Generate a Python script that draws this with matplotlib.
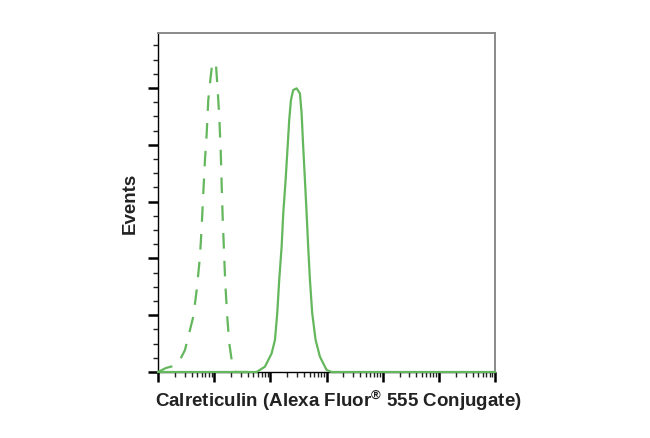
import numpy as np
import matplotlib
matplotlib.use("Agg")
import matplotlib.pyplot as plt
from matplotlib.ticker import LogLocator, MultipleLocator, NullFormatter

plt.rcParams["mathtext.fontset"] = "custom"
plt.rcParams["mathtext.rm"] = "Liberation Sans:bold"
plt.rcParams["mathtext.bf"] = "Liberation Sans:bold"

# Control (dashed) histogram: log10 intensity, event height
ctrl_logx = [0.00, 0.14, 0.25, 0.361, 0.480, 0.628, 0.689, 0.747, 0.778, 0.806, 0.836,
             0.867, 0.895, 0.938, 0.966, 0.996, 1.032, 1.055, 1.091, 1.116, 1.133,
             1.151, 1.174, 1.198, 1.233, 1.269, 1.329, 1.38, 1.60]
ctrl_y = [0.00, 0.07, 0.10, 0.153, 0.387, 0.974, 1.444, 2.030, 2.558, 3.146, 3.732,
          4.202, 4.789, 5.199, 5.435, 5.465, 5.405, 5.083, 4.496, 3.908, 3.322,
          2.736, 2.148, 1.561, 0.974, 0.505, 0.092, 0.00, 0.00]

# Calreticulin stained (solid) histogram
stain_logx = [0.00, 1.756, 1.904, 2.023, 2.082, 2.123, 2.158, 2.201, 2.230, 2.272,
              2.308, 2.336, 2.367, 2.407, 2.468, 2.527, 2.557, 2.585, 2.616, 2.646,
              2.674, 2.705, 2.746, 2.806, 2.883, 3.002, 3.091, 6.00]
stain_y = [0.00, 0.00, 0.094, 0.328, 0.563, 1.033, 1.620, 2.207, 2.794, 3.380,
           3.968, 4.437, 4.789, 4.965, 4.995, 4.906, 4.554, 3.968, 3.380, 2.794,
           2.207, 1.620, 1.033, 0.563, 0.270, 0.035, 0.00, 0.00]

xlabel = r"Calreticulin (Alexa Fluor$^{\mathrm{®}}$ 555 Conjugate)"
ylabel = "Events"
green = "#64b75c"

fig = plt.figure(figsize=(6.5, 4.38), dpi=100)
ax = fig.add_axes([158/650, 1-372/438, (495-158)/650, (372-33)/438])

ax.plot(10**np.array(stain_logx), stain_y, color=green, lw=1.6, zorder=3,
        clip_on=False, solid_joinstyle="round")
ax.plot(10**np.array(ctrl_logx), ctrl_y, color=green, lw=1.6, dashes=(7, 5.5),
        dash_capstyle="butt", zorder=3, clip_on=False)

ax.set_xscale("log")
ax.set_xlim(1, 1e6)
ax.set_ylim(0, 5.97)
ax.xaxis.set_major_locator(LogLocator(base=10, numticks=10))
ax.xaxis.set_minor_locator(LogLocator(base=10, subs=np.arange(2, 10), numticks=20))
ax.xaxis.set_major_formatter(NullFormatter())
ax.xaxis.set_minor_formatter(NullFormatter())
ax.yaxis.set_major_locator(MultipleLocator(1))
ax.yaxis.set_minor_locator(MultipleLocator(0.25))
ax.yaxis.set_major_formatter(NullFormatter())

ax.tick_params(which="major", direction="out", length=7, width=1.8, color="black")
ax.tick_params(which="minor", direction="out", length=3.5, width=1.0, color="#222222")
ax.tick_params(top=False, right=False)

for s in ["left", "bottom"]:
    ax.spines[s].set_color("black")
    ax.spines[s].set_linewidth(1.0)
for s in ["top", "right"]:
    ax.spines[s].set_color("#8a8a8a")
    ax.spines[s].set_linewidth(1.4)

fig.text(338/650, 1-401/438, xlabel, ha="center", va="center",
         fontsize=13.5, fontweight="bold", family="Liberation Sans", color="#222222")
fig.text(130/650, 1-203/438, ylabel, ha="center", va="center", rotation=90,
         fontsize=13.5, fontweight="bold", family="Liberation Sans", color="#222222")

fig.savefig("out.png", dpi=100)
